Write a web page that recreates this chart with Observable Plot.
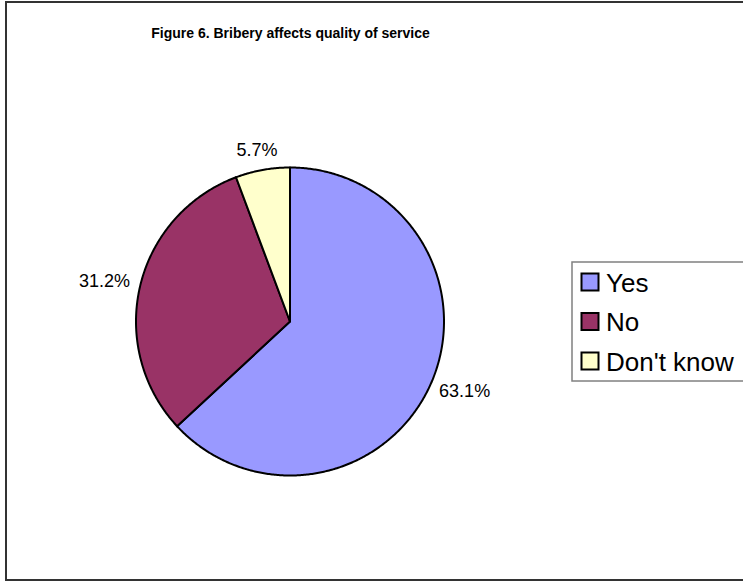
<!DOCTYPE html>
<html><head><meta charset="utf-8">
<script src="https://cdn.jsdelivr.net/npm/d3@7"></script>
<script src="https://cdn.jsdelivr.net/npm/@observablehq/plot@0.6"></script>
<style>body{margin:0;background:#fff;} svg{display:block;}</style>
</head><body><div id="chart"></div>
<script>
const title = "Figure 6. Bribery affects quality of service";
const categories = ["Yes", "No", "Don't know"];
const values = [63.1, 31.2, 5.7];
const colors = ["#9999FF", "#993366", "#FFFFCC"];

const W = 743, H = 582;
const FONT = "'Liberation Sans', Arial, sans-serif";
const cx = 289.5, cy = 321, r = 154, labelR = 165, labelSize = 18;

const ctx = document.createElement("canvas").getContext("2d");
ctx.font = `${labelSize}px ${FONT}`;

const arcs = d3.pie().sort(null).value(d => d)(values);
const polys = [];
arcs.forEach((a, i) => {
  const cat = categories[i];
  polys.push({cat, px: 0, py: 0});
  const n = Math.max(2, Math.ceil((a.endAngle - a.startAngle) / (Math.PI / 360)));
  for (let k = 0; k <= n; k++) {
    const t = a.startAngle + (a.endAngle - a.startAngle) * k / n;
    polys.push({cat, px: Math.sin(t), py: -Math.cos(t)});
  }
  polys.push({cat, px: 0, py: 0});
});
const labels = arcs.map((a, i) => {
  const m = (a.startAngle + a.endAngle) / 2;
  const text = d3.format(".1f")(values[i]) + "%";
  const w = ctx.measureText(text).width, h = labelSize;
  const lx = Math.sin(m), ly = -Math.cos(m);
  return {cat: categories[i], text, x: cx + labelR * lx + lx * w / 2, y: cy + labelR * ly + ly * h / 2};
});

const legendX = 581.5, legendY0 = 282, legendStep = 39.5, sw = 17;

const chart = Plot.plot({
  width: W, height: H,
  marginTop: 0, marginRight: 0, marginBottom: 0, marginLeft: 0,
  x: {domain: [0, W], range: [0, W], axis: null},
  y: {domain: [0, H], range: [0, H], axis: null},
  color: {domain: categories, range: colors},
  style: {fontFamily: FONT, background: "#fff", color: "#000"},
  marks: [
    Plot.rect([0], {x1: 6, x2: W + 20, y1: 2, y2: 580, fill: "none", stroke: "#333", strokeWidth: 2}),
    Plot.text([title], {x: 290, y: 33, text: d => d, fontWeight: "bold", fontSize: 14, fill: "#000"}),
    Plot.line(polys, {x: d => cx + r * d.px, y: d => cy + r * d.py, z: "cat", fill: "cat", stroke: "#000", strokeWidth: 2, curve: "linear", strokeLinejoin: "round"}),
    Plot.text(labels, {x: "x", y: "y", text: "text", fontSize: labelSize, fill: "#000"}),
    Plot.rect([0], {x1: 572, x2: W + 20, y1: 262, y2: 381, fill: "#fff", stroke: "#808080", strokeWidth: 1.5}),
    Plot.rect(categories, {x1: legendX, x2: legendX + sw, y1: (d, i) => legendY0 + legendStep * i - sw / 2, y2: (d, i) => legendY0 + legendStep * i + sw / 2, fill: d => d, stroke: "#000", strokeWidth: 2}),
    Plot.text(categories, {x: legendX + sw + 7, y: (d, i) => legendY0 + legendStep * i + 1, text: d => d, textAnchor: "start", fontSize: 26, fill: "#000"})
  ]
});
document.getElementById("chart").append(chart);
</script>
</body></html>
